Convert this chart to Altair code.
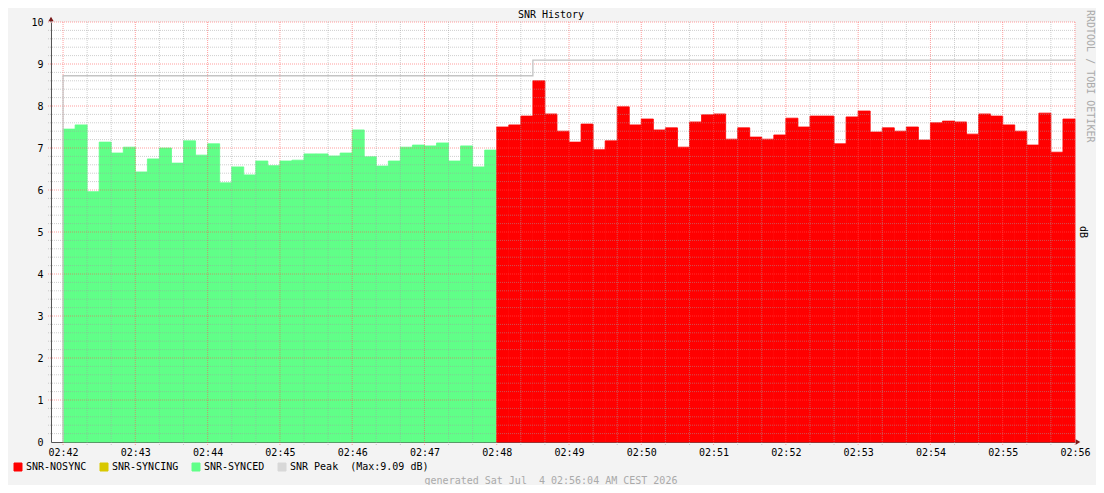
import altair as alt
import pandas as pd

MONO = "DejaVu Sans Mono"

# ---- data (10 s steps starting 02:42:00) ----
STEP_MIN = 1 / 6
SYNCED = [7.45, 7.55, 5.96, 7.14, 6.88, 7.02, 6.43, 6.74, 7.00, 6.64, 7.17, 6.83,
          7.10, 6.17, 6.55, 6.36, 6.69, 6.58, 6.69, 6.71, 6.86, 6.86, 6.81, 6.88,
          7.43, 6.79, 6.57, 6.69, 7.02, 7.07, 7.05, 7.12, 6.69, 7.05, 6.55, 6.95]
NOSYNC = [7.50, 7.55, 7.76, 8.60, 7.81, 7.40, 7.14, 7.57, 6.96, 7.17, 7.98, 7.55,
          7.69, 7.43, 7.48, 7.02, 7.62, 7.79, 7.81, 7.21, 7.48, 7.26, 7.21, 7.31,
          7.71, 7.50, 7.76, 7.76, 7.10, 7.74, 7.88, 7.38, 7.48, 7.40, 7.50, 7.19,
          7.60, 7.64, 7.62, 7.33, 7.81, 7.76, 7.55, 7.40, 7.07, 7.83, 6.90, 7.69]
PEAK_T = [0, 0, 6.5, 6.5, 14]
PEAK_V = [0, 8.72, 8.72, 9.09, 9.09]
TICK_LABELS = ["02:42", "02:43", "02:44", "02:45", "02:46", "02:47", "02:48",
               "02:49", "02:50", "02:51", "02:52", "02:53", "02:54", "02:55", "02:56"]
Y_TICKS = list(range(0, 11))
LEGEND = ["SNR-NOSYNC", "SNR-SYNCING", "SNR-SYNCED", "SNR Peak\u00a0\u00a0(Max:9.09 dB)"]
COLORS = ["#ff0000", "#d8c800", "#60ff88", "#d8d8d8"]

rows = []
for i, v in enumerate(SYNCED + NOSYNC):
    state = LEGEND[2] if i < len(SYNCED) else LEGEND[0]
    rows.append(dict(t0=i * STEP_MIN, t1=(i + 1) * STEP_MIN, v=v, state=state, edge=state, o=i))
bars = pd.DataFrame(rows)
peak = pd.DataFrame({"t": PEAK_T, "v": PEAK_V, "o": list(range(len(PEAK_T)))})

minor_y = pd.DataFrame({"v": [round(0.2 * k, 1) for k in range(1, 50) if k % 5]})
major_y = pd.DataFrame({"v": Y_TICKS[1:]})
minor_x = pd.DataFrame({"t": [k / 3 for k in range(1, 42) if k % 3]})
major_x = pd.DataFrame({"t": list(range(len(TICK_LABELS)))})
one = pd.DataFrame({"a": [0]})

W, H = 1024, 420
xscale = alt.Scale(domain=[-STEP_MIN, 14], nice=False, zero=False)
yscale = alt.Scale(domain=[0, 10], nice=False)

label_arr = "[" + ",".join("'%s'" % s for s in TICK_LABELS) + "]"
XAXIS = alt.Axis(values=list(range(len(TICK_LABELS))), labelExpr=label_arr + "[datum.value]",
                 title=None, grid=False, ticks=False, domainColor="#555555",
                 labelFont=MONO, labelFontSize=10, labelColor="black",
                 labelPadding=5, labelFlush=False, labelOverlap=False)
YAXIS = alt.Axis(values=Y_TICKS, title=None, grid=False, ticks=False,
                 domainColor="#555555", labelFont=MONO, labelFontSize=10,
                 labelColor="black", labelPadding=8, labelFlush=False, labelOverlap=False)


def X(field):
    return alt.X(field, scale=xscale, axis=XAXIS)


def Y(field):
    return alt.Y(field, scale=yscale, axis=YAXIS)


# legend carrier: step area under the bars (same shape), gives outlined legend squares
legend_layer = alt.Chart(bars).mark_area(interpolate="step-after", opacity=1).encode(
    x=X("t0:Q"),
    y=alt.Y("v:Q", scale=yscale, axis=YAXIS, stack=None),
    y2=alt.datum(0),
    color=alt.Color("state:N", scale=alt.Scale(domain=LEGEND, range=COLORS),
                    legend=alt.Legend(title=None, orient="none", legendX=-38, legendY=440,
                                      direction="horizontal", symbolType="square",
                                      symbolSize=64, symbolStrokeColor="black",
                                      symbolStrokeWidth=1, symbolOpacity=1,
                                      labelFont=MONO, labelFontSize=10, labelColor="black",
                                      labelOffset=3, columnPadding=11, padding=0)),
    order="o:Q",
)

# bars: fill/stroke per state (no legend of their own)
bar_layer = alt.Chart(bars).mark_rect(strokeWidth=0.8, opacity=1).encode(
    x=X("t0:Q"),
    x2="t1:Q",
    y=alt.Y("v:Q", scale=yscale, axis=YAXIS, stack=None),
    y2=alt.datum(0),
    fill=alt.Fill("edge:N", scale=alt.Scale(domain=LEGEND, range=COLORS), legend=None),
    stroke=alt.Stroke("edge:N", scale=alt.Scale(domain=LEGEND, range=COLORS), legend=None),
)

hmin = alt.Chart(minor_y).mark_rule(strokeDash=[1, 1], color="#a0a0a0", opacity=0.5).encode(
    y=Y("v:Q"), x=alt.value(-3), x2=alt.value(W))
hmaj = alt.Chart(major_y).mark_rule(strokeDash=[1, 1], color="#ff5050", opacity=0.55).encode(
    y=Y("v:Q"), x=alt.value(-3), x2=alt.value(W))
vmin = alt.Chart(minor_x).mark_rule(strokeDash=[1, 1], color="#a0a0a0", opacity=0.5).encode(
    x=X("t:Q"), y=alt.value(0), y2=alt.value(H + 3))
vmaj = alt.Chart(major_x).mark_rule(strokeDash=[1, 1], color="#ff5050", opacity=0.55).encode(
    x=X("t:Q"), y=alt.value(0), y2=alt.value(H + 3))

peak_line = alt.Chart(peak).mark_line(color="#c4c4c4", strokeWidth=1.3, interpolate="linear").encode(
    x=X("t:Q"), y=Y("v:Q"), order="o:Q",
)

arrow_up = alt.Chart(one).mark_point(shape="triangle-up", filled=True, size=28, color="#7a1a1a", opacity=1).encode(
    x=alt.value(0), y=alt.value(-3))
arrow_right = alt.Chart(one).mark_point(shape="triangle-right", filled=True, size=28, color="#7a1a1a", opacity=1).encode(
    x=alt.value(W + 3), y=alt.value(H))
axis_ext = alt.Chart(one).mark_rule(color="#555555").encode(
    x=alt.value(0), y=alt.value(-4), y2=alt.value(0))

title = alt.Chart(one).mark_text(align="center", baseline="middle", font=MONO,
                                 fontSize=10, color="black").encode(
    x=alt.value(500), y=alt.value(-7), text=alt.value("SNR History"))
credit = alt.Chart(one).mark_text(angle=90, align="left", baseline="middle", font=MONO,
                                  fontSize=10, color="#aaaaaa").encode(
    x=alt.value(1039), y=alt.value(-12), text=alt.value("RRDTOOL / TOBI OETIKER"))
unit = alt.Chart(one).mark_text(angle=90, align="center", baseline="middle", font=MONO,
                                fontSize=10, color="black").encode(
    x=alt.value(1032), y=alt.value(H / 2), text=alt.value("dB"))
generated = alt.Chart(one).mark_text(align="center", baseline="middle", font=MONO,
                                     fontSize=10, color="#aaaaaa").encode(
    x=alt.value(500), y=alt.value(459),
    text=alt.value("generated Sat Jul\u00a0\u00a04 02:56:04 AM CEST 2026"))

chart = alt.layer(
    legend_layer, bar_layer, hmin, hmaj, vmin, vmaj, peak_line, axis_ext, arrow_up, arrow_right,
    title, credit, unit, generated
).properties(
    width=W, height=H,
    autosize=alt.AutoSizeParams(type="none"),
    padding={"left": 43, "top": 14, "right": 21, "bottom": 43},
    background="#f3f3f3",
).configure_view(stroke=None, fill="white")

chart.save("out.html", embed_options={"renderer": "svg", "actions": False})
